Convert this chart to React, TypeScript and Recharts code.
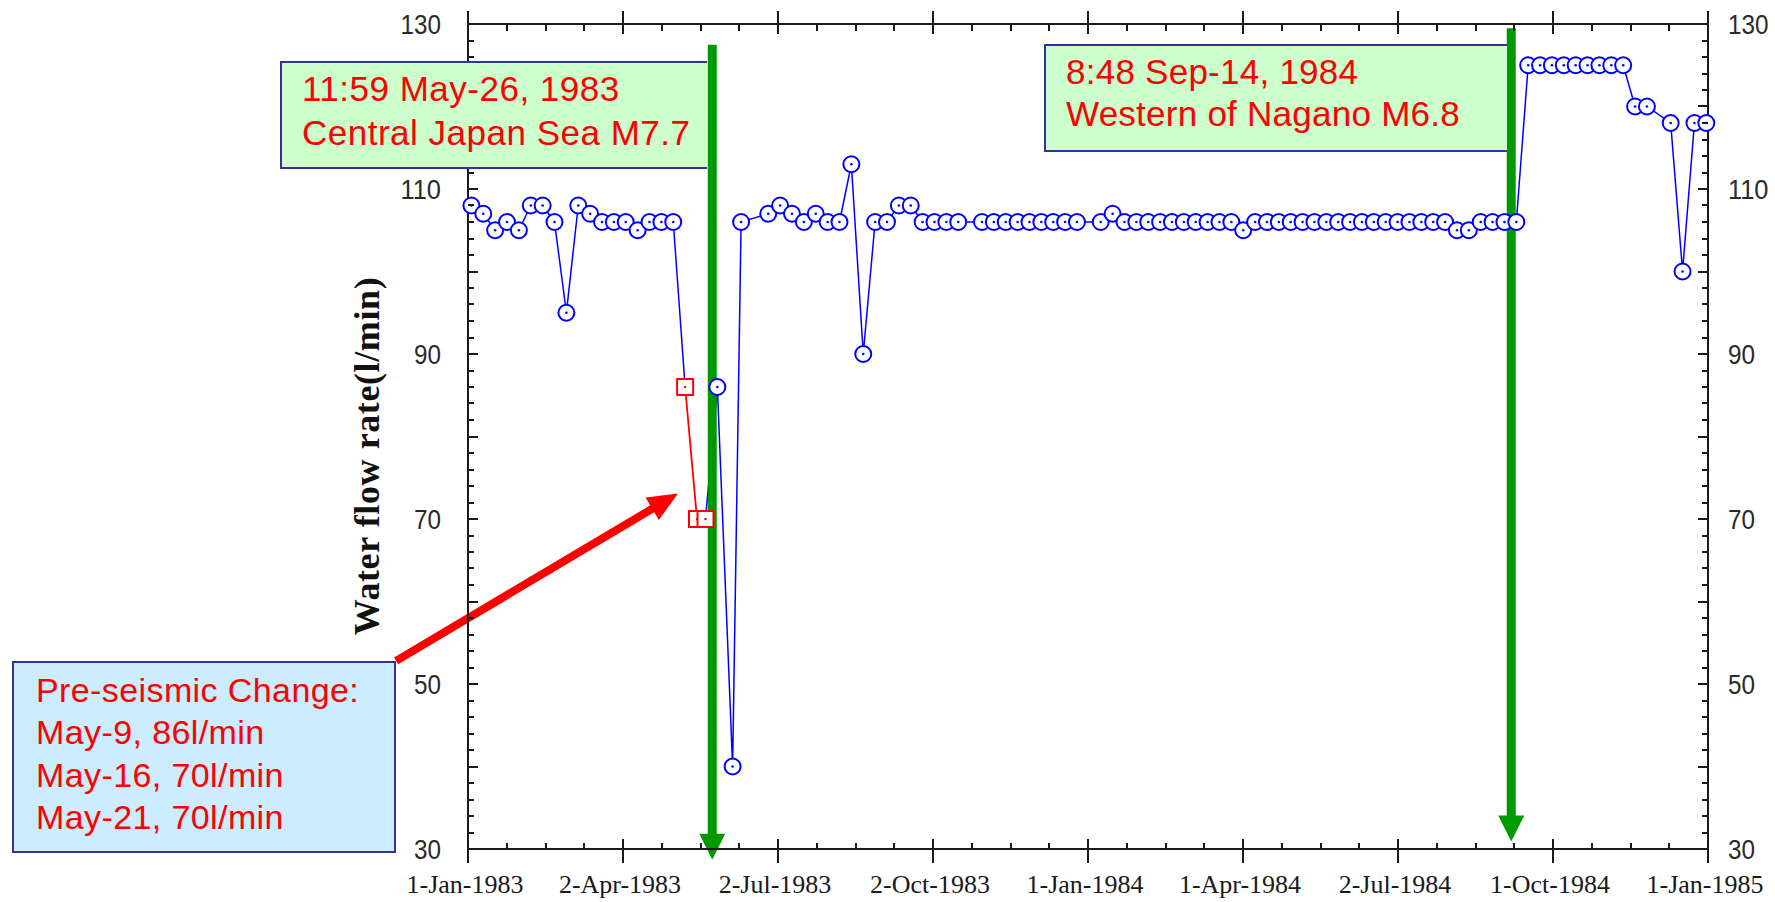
import React from 'react';
import { LineChart, Line, XAxis, YAxis, ReferenceLine } from 'recharts';

const WIDTH = 1775;
const HEIGHT = 902;
const SPAN_DAYS = 731; // 1-Jan-1983 .. 1-Jan-1985

// Weekly water flow readings (l/min)
const flowDates = [
  '1983-01-03', '1983-01-10', '1983-01-17', '1983-01-24', '1983-01-31', '1983-02-07', '1983-02-14',
  '1983-02-21', '1983-02-28', '1983-03-07', '1983-03-14', '1983-03-21', '1983-03-28', '1983-04-04',
  '1983-04-11', '1983-04-18', '1983-04-25', '1983-05-02', '1983-05-09', '1983-05-21', '1983-05-28',
  '1983-06-06', '1983-06-11', '1983-06-27', '1983-07-04', '1983-07-11', '1983-07-18', '1983-07-25',
  '1983-08-01', '1983-08-08', '1983-08-15', '1983-08-22', '1983-08-29', '1983-09-05', '1983-09-12',
  '1983-09-19', '1983-09-26', '1983-10-03', '1983-10-10', '1983-10-17', '1983-10-31', '1983-11-07',
  '1983-11-14', '1983-11-21', '1983-11-28', '1983-12-05', '1983-12-12', '1983-12-19', '1983-12-26',
  '1984-01-09', '1984-01-16', '1984-01-23', '1984-01-30', '1984-02-06', '1984-02-13', '1984-02-20',
  '1984-02-27', '1984-03-05', '1984-03-12', '1984-03-19', '1984-03-26', '1984-04-02', '1984-04-09',
  '1984-04-16', '1984-04-23', '1984-04-30', '1984-05-07', '1984-05-14', '1984-05-21', '1984-05-28',
  '1984-06-04', '1984-06-11', '1984-06-18', '1984-06-25', '1984-07-02', '1984-07-09', '1984-07-16',
  '1984-07-23', '1984-07-30', '1984-08-06', '1984-08-13', '1984-08-20', '1984-08-27', '1984-09-03',
  '1984-09-10', '1984-09-17', '1984-09-24', '1984-10-01', '1984-10-08', '1984-10-15', '1984-10-22',
  '1984-10-29', '1984-11-05', '1984-11-12', '1984-11-19', '1984-11-26', '1984-12-10', '1984-12-17',
  '1984-12-24', '1984-12-31',
];
const flowValues = [
  108, 107, 105, 106, 105, 108, 108,
  106, 95, 108, 107, 106, 106, 106,
  105, 106, 106, 106, 86, 70, 86,
  40, 106, 107, 108, 107, 106, 107,
  106, 106, 113, 90, 106, 106, 108,
  108, 106, 106, 106, 106, 106, 106,
  106, 106, 106, 106, 106, 106, 106,
  106, 107, 106, 106, 106, 106, 106,
  106, 106, 106, 106, 106, 105, 106,
  106, 106, 106, 106, 106, 106, 106,
  106, 106, 106, 106, 106, 106, 106,
  106, 106, 105, 105, 106, 106, 106,
  106, 125, 125, 125, 125, 125, 125,
  125, 125, 125, 120, 120, 118, 100,
  118, 118,
];

// Readings flagged as the pre-seismic change
const preDates = ['1983-05-09', '1983-05-16', '1983-05-21'];
const preValues = [86, 70, 70];

const xTickLabels = [
  '1-Jan-1983', '2-Apr-1983', '2-Jul-1983', '2-Oct-1983', '1-Jan-1984',
  '1-Apr-1984', '2-Jul-1984', '1-Oct-1984', '1-Jan-1985',
];
const yTickLabels = [30, 50, 70, 90, 110, 130];

// Earthquake arrows: date, top and tip on the flow scale
const quakeDates = ['1983-05-25', '1984-09-07'];
const quakeTops = [127.5, 129.5];
const quakeTips = [28.7, 30.9];

// Arrow from the note box to the flagged readings, as [day, flow]
const noteArrowFrom = [-42.4, 52.8];
const noteArrowTo = [123.8, 73.1];

const ORIGIN = Date.UTC(1983, 0, 1);
const toDay = (iso: string) => {
  const [y, m, d] = iso.split('-').map(Number);
  return Math.round((Date.UTC(y, m - 1, d) - ORIGIN) / 86400000);
};

type Row = { day: number; flow: number | null; pre: number | null };
const rowMap = new Map<number, Row>();
flowDates.forEach((d, i) => {
  const day = toDay(d);
  const r = rowMap.get(day) || { day, flow: null, pre: null };
  r.flow = flowValues[i];
  rowMap.set(day, r);
});
preDates.forEach((d, i) => {
  const day = toDay(d);
  const r = rowMap.get(day) || { day, flow: null, pre: null };
  r.pre = preValues[i];
  rowMap.set(day, r);
});
const rows: Row[] = Array.from(rowMap.values()).sort((a, b) => a.day - b.day);

const X_DIVS = 32; // 8 labelled intervals, 4 minor steps each
const xTicks = Array.from({ length: X_DIVS + 1 }, (_, i) => (i * SPAN_DAYS) / X_DIVS);
const yTicks = Array.from({ length: 51 }, (_, i) => 30 + i * 2);

const AXIS = '#1a1a1a';
const SERIF = "'Liberation Serif', 'Times New Roman', serif";
const SANS = "'Liberation Sans', Arial, sans-serif";
const BLUE = '#0000FF';
const RED = '#FF0000';
const GREEN = '#009900';

const xIndex = (v: number) => Math.round((v * X_DIVS) / SPAN_DAYS);
const px = (v: number) => Math.round(v);

const tickLine = (x1: number, y1: number, x2: number, y2: number) => (
  <line x1={x1} y1={y1} x2={x2} y2={y2} stroke={AXIS} strokeWidth={2} shapeRendering="crispEdges" />
);

const renderBottomTick = (p: any) => {
  const { payload } = p;
  const x = px(p.x);
  const y = px(p.y);
  const i = xIndex(payload.value);
  const major = i % 4 === 0;
  return (
    <g>
      {major ? tickLine(x, y - 10, x, y + 14) : tickLine(x, y - 6, x, y)}
      {major && (
        <text x={x - 3} y={y + 44} textAnchor="middle" fontFamily={SERIF} fontSize={26} fill="#1a1a1a">
          {xTickLabels[i / 4]}
        </text>
      )}
    </g>
  );
};

const renderTopTick = (p: any) => {
  const { payload } = p;
  const x = px(p.x);
  const y = px(p.y);
  const i = xIndex(payload.value);
  const major = i % 4 === 0;
  return <g>{major ? tickLine(x, y - 13, x, y + 10) : tickLine(x, y, x, y + 7)}</g>;
};

const yLabel = (v: number, x: number, y: number) => {
  const w = String(v).length * 13.5;
  return (
    <text x={x} y={y + 10} fontFamily={SANS} fontSize={27} fill="#2a2a2a" textLength={w} lengthAdjust="spacingAndGlyphs">
      {v}
    </text>
  );
};

const renderLeftTick = (p: any) => {
  const { payload } = p;
  const x = px(p.x);
  const y = px(p.y);
  const v = payload.value;
  const major = v % 10 === 0;
  const w = String(v).length * 13.5;
  return (
    <g>
      {tickLine(x, y, x + (major ? 10 : 6), y)}
      {yTickLabels.includes(v) && yLabel(v, x - 27 - w, y)}
    </g>
  );
};

const renderRightTick = (p: any) => {
  const { payload } = p;
  const x = px(p.x);
  const y = px(p.y);
  const v = payload.value;
  const major = v % 10 === 0;
  return (
    <g>
      {tickLine(x - (major ? 10 : 6), y, x, y)}
      {yTickLabels.includes(v) && yLabel(v, x + 20, y)}
    </g>
  );
};

const renderFlowDot = (p: any) => {
  const { cx, cy, payload, index } = p;
  if (cx == null || cy == null || payload == null || payload.flow == null || payload.pre != null) {
    return <g key={`f${index}`} />;
  }
  return (
    <g key={`f${index}`}>
      <circle cx={cx} cy={cy} r={8} fill="#fff" stroke={BLUE} strokeWidth={2} />
      <circle cx={cx} cy={cy} r={1.3} fill={BLUE} />
    </g>
  );
};

const renderPreDot = (p: any) => {
  const { cx, cy, payload, index } = p;
  if (cx == null || cy == null || payload == null || payload.pre == null) {
    return <g key={`p${index}`} />;
  }
  return (
    <g key={`p${index}`}>
      <rect x={cx - 8} y={cy - 8} width={16} height={16} fill="#fff" stroke={RED} strokeWidth={2} />
      <circle cx={cx} cy={cy} r={1.2} fill={RED} />
    </g>
  );
};

const QuakeArrow = (p: any) => {
  const { x1, y1, x2, y2 } = p;
  if ([x1, y1, x2, y2].some((v) => v == null || Number.isNaN(v))) return <g />;
  const head = 26;
  return (
    <g>
      <line x1={x1} y1={y1} x2={x2} y2={y2 - head + 2} stroke={GREEN} strokeWidth={9} />
      <polygon points={`${x2 - 13},${y2 - head} ${x2 + 13},${y2 - head} ${x2},${y2}`} fill={GREEN} />
    </g>
  );
};

const NoteArrow = (p: any) => {
  const { x1, y1, x2, y2 } = p;
  if ([x1, y1, x2, y2].some((v) => v == null || Number.isNaN(v))) return <g />;
  const dx = x2 - x1;
  const dy = y2 - y1;
  const len = Math.hypot(dx, dy);
  const ux = dx / len;
  const uy = dy / len;
  const headL = 30;
  const headW = 13;
  const bx = x2 - ux * headL;
  const by = y2 - uy * headL;
  return (
    <g>
      <line x1={x1} y1={y1} x2={bx + ux * 2} y2={by + uy * 2} stroke={RED} strokeWidth={8} />
      <polygon
        points={`${x2},${y2} ${bx - uy * headW},${by + ux * headW} ${bx + uy * headW},${by - ux * headW}`}
        fill={RED}
      />
    </g>
  );
};

type Note = {
  left: number; top: number; width: number; height: number; fill: string; openRight: boolean;
  textLeft: number; textTop: number; lineHeight: number; fontSize: number; spacing: number; lines: string[];
};

const notes: Note[] = [
  { left: 280, top: 61, width: 427, height: 108, fill: '#CCFFCC', openRight: true, textLeft: 302, textTop: 67, lineHeight: 43.5, fontSize: 35, spacing: 0.5, lines: ['11:59 May-26, 1983', 'Central Japan Sea M7.7'] },
  { left: 1044, top: 44, width: 463, height: 108, fill: '#CCFFCC', openRight: true, textLeft: 1066, textTop: 51, lineHeight: 42, fontSize: 35, spacing: 0.25, lines: ['8:48 Sep-14, 1984', 'Western of Nagano M6.8'] },
  { left: 12, top: 661, width: 384, height: 192, fill: '#CCECFF', openRight: false, textLeft: 36, textTop: 669, lineHeight: 42.3, fontSize: 34, spacing: 0.4, lines: ['Pre-seismic Change:', 'May-9, 86l/min', 'May-16, 70l/min', 'May-21, 70l/min'] },
];

export default function App() {
  return (
    <div style={{ position: 'absolute', left: 0, top: 0, width: WIDTH, height: HEIGHT, background: '#fff', overflow: 'hidden' }}>
      <LineChart width={WIDTH} height={HEIGHT} data={rows} margin={{ top: 4, right: 7, bottom: 8, left: 358 }}>
        <XAxis
          dataKey="day"
          type="number"
          domain={[0, SPAN_DAYS]}
          ticks={xTicks}
          interval={0}
          height={45}
          tickSize={0}
          tickMargin={0}
          tickLine={false}
          axisLine={{ stroke: AXIS, strokeWidth: 2 }}
          tick={renderBottomTick}
        />
        <XAxis
          xAxisId="top"
          dataKey="day"
          orientation="top"
          type="number"
          domain={[0, SPAN_DAYS]}
          ticks={xTicks}
          interval={0}
          height={20}
          tickSize={0}
          tickMargin={0}
          tickLine={false}
          axisLine={{ stroke: AXIS, strokeWidth: 2 }}
          tick={renderTopTick}
        />
        <YAxis
          type="number"
          domain={[30, 130]}
          ticks={yTicks}
          interval={0}
          width={110}
          tickSize={0}
          tickMargin={0}
          tickLine={false}
          axisLine={{ stroke: AXIS, strokeWidth: 2 }}
          tick={renderLeftTick}
        />
        <YAxis
          yAxisId="right"
          orientation="right"
          type="number"
          domain={[30, 130]}
          ticks={yTicks}
          interval={0}
          width={60}
          tickSize={0}
          tickMargin={0}
          tickLine={false}
          axisLine={{ stroke: AXIS, strokeWidth: 2 }}
          tick={renderRightTick}
        />
        {/* invisible series so the top and right frame axes share the data extent */}
        <Line
          xAxisId="top"
          yAxisId="right"
          dataKey="flow"
          stroke="none"
          dot={false}
          activeDot={false}
          legendType="none"
          isAnimationActive={false}
        />
        <Line
          dataKey="flow"
          type="linear"
          stroke={BLUE}
          strokeWidth={1.5}
          dot={renderFlowDot}
          activeDot={false}
          isAnimationActive={false}
        />
        <Line
          dataKey="pre"
          type="linear"
          stroke={RED}
          strokeWidth={1.8}
          dot={renderPreDot}
          activeDot={false}
          isAnimationActive={false}
        />
        {quakeDates.map((d, i) => (
          <ReferenceLine
            key={d}
            segment={[
              { x: toDay(d), y: quakeTops[i] },
              { x: toDay(d), y: quakeTips[i] },
            ]}
            ifOverflow="visible"
            shape={QuakeArrow}
          />
        ))}
        <ReferenceLine
          segment={[
            { x: noteArrowFrom[0], y: noteArrowFrom[1] },
            { x: noteArrowTo[0], y: noteArrowTo[1] },
          ]}
          ifOverflow="visible"
          shape={NoteArrow}
        />
      </LineChart>

      <div
        style={{
          position: 'absolute',
          left: 367,
          top: 456,
          transform: 'translate(-50%, -50%) rotate(-90deg)',
          whiteSpace: 'nowrap',
          fontFamily: SERIF,
          fontWeight: 'bold',
          fontSize: 36,
          letterSpacing: 0.6,
          color: '#111',
          lineHeight: 1,
        }}
      >
        Water flow rate(l/min)
      </div>

      {notes.map((n, i) => (
        <React.Fragment key={i}>
          <div
            style={{
              position: 'absolute',
              left: n.left,
              top: n.top,
              width: n.width,
              height: n.height,
              boxSizing: 'border-box',
              background: n.fill,
              border: '2px solid #333399',
              borderRight: n.openRight ? 'none' : '2px solid #333399',
            }}
          />
          <div
            style={{
              position: 'absolute',
              left: n.textLeft,
              top: n.textTop,
              fontFamily: SANS,
              fontSize: n.fontSize,
              letterSpacing: n.spacing,
              lineHeight: `${n.lineHeight}px`,
              color: RED,
              whiteSpace: 'nowrap',
            }}
          >
            {n.lines.map((l) => (
              <div key={l}>{l}</div>
            ))}
          </div>
        </React.Fragment>
      ))}
    </div>
  );
}
